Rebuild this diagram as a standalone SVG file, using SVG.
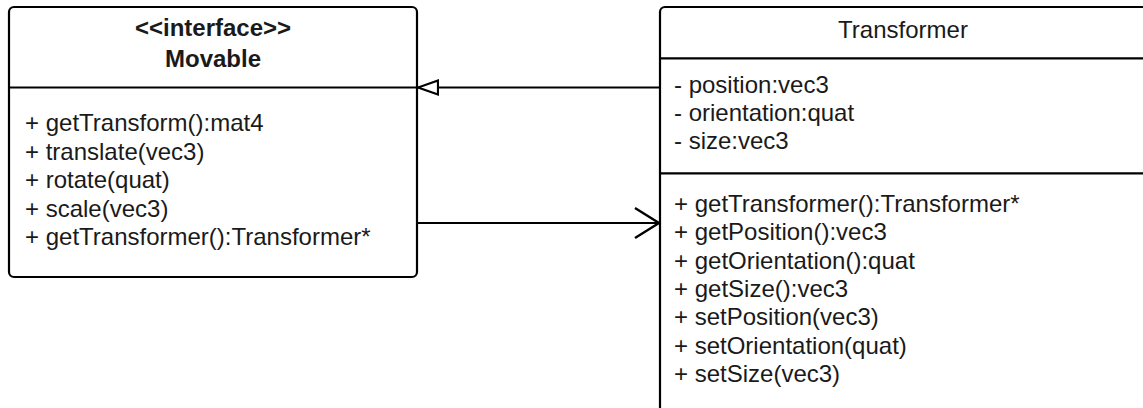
<svg xmlns="http://www.w3.org/2000/svg" width="1143" height="408" viewBox="0 0 1143 408">
  <style>
    .box { fill: #ffffff; stroke: #000000; stroke-width: 2.2; }
    .div { stroke: #000000; stroke-width: 2.2; fill: none; }
    .t { font-family: "Liberation Sans", Arial, sans-serif; font-size: 24px; fill: #1a1a1a; }
    .b { font-weight: bold; }
    .c { text-anchor: middle; }
    .edge { stroke: #000000; stroke-width: 2.2; fill: none; }
  </style>
  <defs>
    <marker id="hollowTri" markerUnits="userSpaceOnUse" markerWidth="24" markerHeight="18" refX="21" refY="8" orient="auto" viewBox="0 0 24 16">
      <path d="M21,8 L1,1 L1,15 Z" fill="#ffffff" stroke="#000000" stroke-width="2.2"/>
    </marker>
    <marker id="openV" markerUnits="userSpaceOnUse" markerWidth="30" markerHeight="34" refX="26" refY="16" orient="auto" viewBox="0 0 30 32">
      <path d="M2,1 L26,16 L2,31" fill="none" stroke="#000000" stroke-width="2.4"/>
    </marker>
  </defs>
  <rect x="0" y="0" width="1143" height="408" fill="#ffffff"/>

  <g id="movable">
    <rect class="box" x="9" y="7" width="408" height="270" rx="5" ry="5"/>
    <line class="div" x1="9" y1="87.5" x2="417" y2="87.5"/>
    <text class="t b c" x="213" y="36">&lt;&lt;interface&gt;&gt;</text>
    <text class="t b c" x="213" y="66.5">Movable</text>
    <text class="t" x="25" y="131">+ getTransform():mat4</text>
    <text class="t" x="25" y="159.5">+ translate(vec3)</text>
    <text class="t" x="25" y="188">+ rotate(quat)</text>
    <text class="t" x="25" y="216.5">+ scale(vec3)</text>
    <text class="t" x="25" y="245">+ getTransformer():Transformer*</text>
  </g>

  <g id="transformer">
    <rect class="box" x="660" y="7" width="490" height="420" rx="5" ry="5"/>
    <line class="div" x1="660" y1="58.3" x2="1150" y2="58.3"/>
    <line class="div" x1="660" y1="173.3" x2="1150" y2="173.3"/>
    <text class="t c" x="903" y="38">Transformer</text>
    <text class="t" x="674" y="92.5">- position:vec3</text>
    <text class="t" x="674" y="121">- orientation:quat</text>
    <text class="t" x="674" y="149.3">- size:vec3</text>
    <text class="t" x="674" y="212">+ getTransformer():Transformer*</text>
    <text class="t" x="674" y="240.3">+ getPosition():vec3</text>
    <text class="t" x="674" y="268.6">+ getOrientation():quat</text>
    <text class="t" x="674" y="296.9">+ getSize():vec3</text>
    <text class="t" x="674" y="325.2">+ setPosition(vec3)</text>
    <text class="t" x="674" y="353.5">+ setOrientation(quat)</text>
    <text class="t" x="674" y="381.8">+ setSize(vec3)</text>
  </g>

  <g id="connectors">
    <path class="edge" d="M659,87.5 L418,87.5" marker-end="url(#hollowTri)"/>
    <path class="edge" d="M418,223 L659,223" marker-end="url(#openV)"/>
  </g>
</svg>
